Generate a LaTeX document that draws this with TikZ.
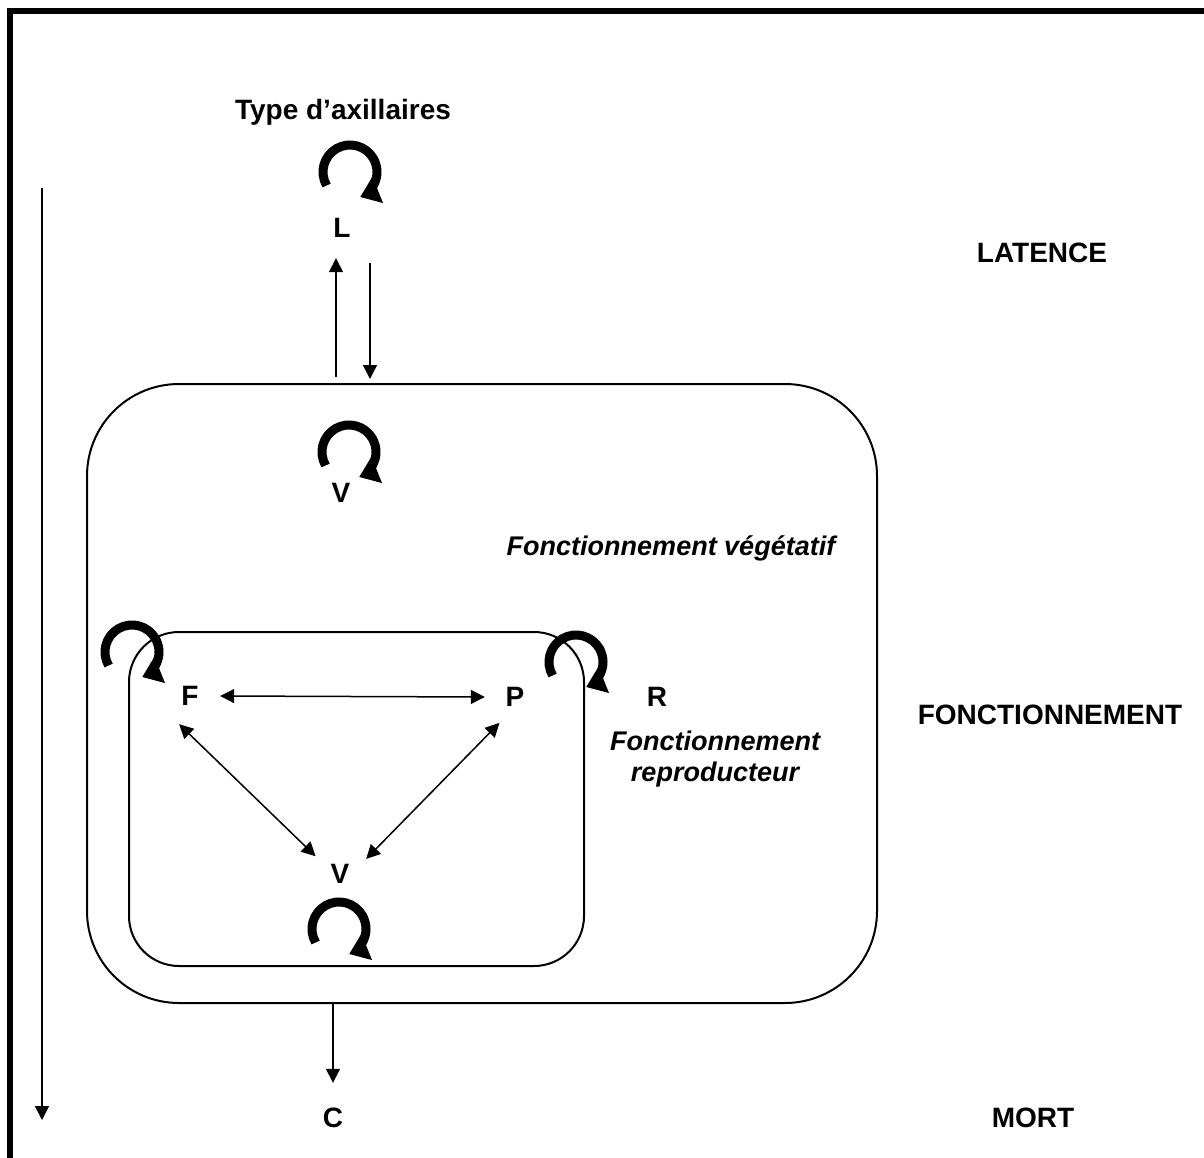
\documentclass[tikz,border=0pt]{standalone}
\usepackage{fontspec}
\setmainfont{Liberation Sans}
\usetikzlibrary{arrows.meta,positioning}

\tikzset{
  lettre/.style={circle,inner sep=0pt,minimum size=60pt,font=\fontsize{28}{34}\selectfont\bfseries},
  titre/.style={font=\fontsize{28}{34}\selectfont\bfseries},
  commentaire/.style={font=\fontsize{27}{31}\selectfont\bfseries\itshape,align=center},
  fleche/.style={line width=1.5pt,-{Triangle[length=14pt,width=14pt]}},
  fleche double/.style={line width=1.5pt,{Triangle[length=14pt,width=14pt]}-{Triangle[length=14pt,width=14pt]}},
  boite/.style={draw,line width=2pt,rectangle,rounded corners=#1},
  boucle/.pic={\draw[line width=9pt,-{Triangle[length=19pt,width=27pt]}]
      (150:27) arc[start angle=150,end angle=428,radius=27];}
}

\begin{document}
\begin{tikzpicture}[x=1pt,y=-1pt]
\useasboundingbox (0,0) rectangle (1204,1158);
% cadre
\draw[line width=6pt] (10,1158) -- (10,11) -- (1204,11);

% boites
\node[boite=92pt,minimum width=790pt,minimum height=619pt] (veg) at (482,693.5) {};
\node[boite=50pt,minimum width=455pt,minimum height=334pt] (repro) at (356.5,799) {};

% types d'axillaires
\node[titre] (type) at (343,112) {Type d’axillaires};
\node[lettre] (L) at (342,228) {L};
\node[lettre] (V1) at (341,493) {V};
\node[lettre] (F) at (190,696) {F};
\node[lettre] (P) at (515,697) {P};
\node[lettre] (V2) at (340,874) {V};
\node[lettre,minimum size=70pt] (C) at (333,1118) {C};
\node[titre] (R) at (657,697) {R};

\node[commentaire] (fveg) at (671,548) {Fonctionnement végétatif};
\node[commentaire] (frepro) at (715,759) {Fonctionnement\\reproducteur};

% phases
\node[titre] (latence) at (1042,253) {LATENCE};
\node[titre] (fonct) at (1050,715) {FONCTIONNEMENT};
\node[titre] (mort) at (1033,1118) {MORT};

% boucles
\pic at (350,172) {boucle};
\pic at (349,452) {boucle};
\pic at (132,652) {boucle};
\pic at (576,662) {boucle};
\pic at (339,929) {boucle};

% transitions
\coordinate (Lmonte) at ([xshift=-6pt]L.south);
\coordinate (Ldescend) at ([xshift=28pt]L.south);
\draw[fleche,shorten <=6pt] (Lmonte |- veg.north) -- (Lmonte);
\draw[fleche,shorten <=5pt,shorten >=4pt] (Ldescend) -- (Ldescend |- veg.north);
\draw[fleche double] (F.east) -- (P.west);
\draw[fleche double] (F.249) -- (V2.144);
\draw[fleche double] (P.239) -- (V2.30);
\draw[fleche] (C |- veg.south) -- (C.north);

% temps
\coordinate (debut) at (42,188);
\coordinate (fin) at (42,1120);
\draw[fleche] (debut) -- (fin);
\end{tikzpicture}
\end{document}
